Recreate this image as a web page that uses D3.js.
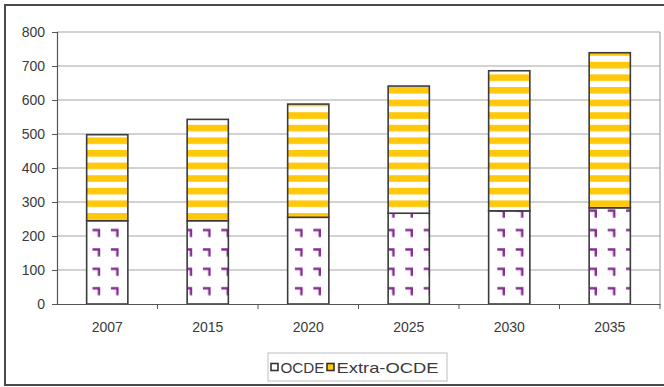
<!DOCTYPE html>
<html>
<head>
<meta charset="utf-8">
<script src="https://d3js.org/d3.v7.min.js"></script>
<style>
body { margin: 0; background: #fff; }
text { font-family: "Liberation Sans", Arial, sans-serif; fill: #3a3a3a; }
</style>
</head>
<body>
<div id="chart"></div>
<script>
//Data
var years = ["2007", "2015", "2020", "2025", "2030", "2035"];
var ocde = [245, 245, 255, 267, 274, 283];
var extraOcde = [253, 298, 333, 374, 412, 456];
var yTicks = [0, 100, 200, 300, 400, 500, 600, 700, 800];
var legendLabels = ["OCDE", "Extra-OCDE"];

//Width and height
var w = 664;
var h = 387;
var plot = {left: 57, right: 660, top: 32, bottom: 304};

var svg = d3.select("#chart")
    .append("svg")
    .attr("width", w)
    .attr("height", h);

//Fill patterns
var defs = svg.append("defs");

var stripes = defs.append("pattern")
    .attr("id", "stripes")
    .attr("patternUnits", "userSpaceOnUse")
    .attr("x", 0)
    .attr("y", 150)
    .attr("width", 10)
    .attr("height", 12.6);
stripes.append("rect").attr("width", 10).attr("height", 12.6).attr("fill", "#fff");
stripes.append("rect").attr("y", 0).attr("width", 10).attr("height", 6.6).attr("fill", "#ffc80a");

var corners = defs.append("pattern")
    .attr("id", "corners")
    .attr("patternUnits", "userSpaceOnUse")
    .attr("x", 91.5)
    .attr("y", 248)
    .attr("width", 18.4)
    .attr("height", 19.4);
corners.append("rect").attr("width", 18.4).attr("height", 19.4).attr("fill", "#fff");
corners.append("path")
    .attr("d", "M1,1.5 H7.5 V8.5")
    .attr("fill", "none")
    .attr("stroke", "#862a93")
    .attr("stroke-width", 2.4);

//Outer frame
svg.append("rect")
    .attr("x", 5).attr("y", 5)
    .attr("width", 675).attr("height", 380)
    .attr("fill", "#fff")
    .attr("stroke", "#4a4a4a")
    .attr("stroke-width", 2);

//Scales
var x = d3.scaleBand()
    .domain(years)
    .range([plot.left, plot.right]);

var y = d3.scaleLinear()
    .domain([0, 800])
    .range([plot.bottom, plot.top]);

//Gridlines
svg.append("g")
    .selectAll("line")
    .data(yTicks.filter(function (d) { return d > 0; }))
    .enter()
    .append("line")
    .attr("x1", plot.left)
    .attr("x2", plot.right)
    .attr("y1", function (d) { return y(d); })
    .attr("y2", function (d) { return y(d); })
    .attr("stroke", "#a6a6a6")
    .attr("stroke-width", 1.2);

//Plot box right side
svg.append("line")
    .attr("x1", plot.right).attr("x2", plot.right)
    .attr("y1", plot.top).attr("y2", plot.bottom)
    .attr("stroke", "#a6a6a6")
    .attr("stroke-width", 1.2);

//Stacked bars
var barW = x.bandwidth() * 0.41;
function barX(d) { return x(d) + (x.bandwidth() - barW) / 2; }

svg.append("g")
    .selectAll("rect")
    .data(years)
    .enter()
    .append("rect")
    .attr("x", barX)
    .attr("y", function (d, i) { return y(ocde[i]); })
    .attr("width", barW)
    .attr("height", function (d, i) { return y(0) - y(ocde[i]); })
    .attr("fill", "url(#corners)")
    .attr("stroke", "#3c3c3c")
    .attr("stroke-width", 1.6);

svg.append("g")
    .selectAll("rect")
    .data(years)
    .enter()
    .append("rect")
    .attr("x", barX)
    .attr("y", function (d, i) { return y(ocde[i] + extraOcde[i]); })
    .attr("width", barW)
    .attr("height", function (d, i) { return y(ocde[i]) - y(ocde[i] + extraOcde[i]); })
    .attr("fill", "url(#stripes)")
    .attr("stroke", "#3c3c3c")
    .attr("stroke-width", 1.6);

//Y axis
var yAxis = svg.append("g")
    .attr("transform", "translate(" + plot.left + ",0)")
    .call(d3.axisLeft(y).tickValues(yTicks).tickSize(5).tickPadding(7));
yAxis.select(".domain").attr("stroke", "#555").attr("stroke-width", 1.2);
yAxis.selectAll(".tick line").attr("stroke", "#555");
yAxis.selectAll("text").attr("font-size", 14).style("fill", "#3a3a3a");

//X axis
var xAxis = svg.append("g")
    .attr("transform", "translate(0," + plot.bottom + ")")
    .call(d3.axisBottom(x).tickSize(0).tickPadding(18).tickSizeOuter(0));
xAxis.select(".domain").attr("stroke", "#555").attr("stroke-width", 1.2);
xAxis.selectAll("text").attr("font-size", 14).style("fill", "#3a3a3a");

//tick marks between categories
svg.append("g")
    .selectAll("line")
    .data(years)
    .enter()
    .append("line")
    .attr("x1", function (d) { return x(d) + x.bandwidth(); })
    .attr("x2", function (d) { return x(d) + x.bandwidth(); })
    .attr("y1", plot.bottom)
    .attr("y2", plot.bottom + 5)
    .attr("stroke", "#555");

//Legend
var legend = svg.append("g").attr("transform", "translate(268,353)");
legend.append("rect")
    .attr("width", 179).attr("height", 28)
    .attr("fill", "#fff")
    .attr("stroke", "#bdbdbd");

var legendX = [3, 59];
var legendW = [44, 102];
var legendFill = ["#fff", "#ffc80a"];
legend.selectAll(".sw")
    .data(legendLabels)
    .enter()
    .append("rect")
    .attr("x", function (d, i) { return legendX[i]; })
    .attr("y", 10.5)
    .attr("width", 7).attr("height", 7)
    .attr("fill", function (d, i) { return legendFill[i]; })
    .attr("stroke", "#333")
    .attr("stroke-width", 1.6);
legend.selectAll(".lab")
    .data(legendLabels)
    .enter()
    .append("text")
    .attr("x", function (d, i) { return legendX[i] + 9.5; })
    .attr("y", 20)
    .attr("font-size", 15)
    .attr("textLength", function (d, i) { return legendW[i]; })
    .attr("lengthAdjust", "spacingAndGlyphs")
    .text(function (d) { return d; });
</script>
</body>
</html>
